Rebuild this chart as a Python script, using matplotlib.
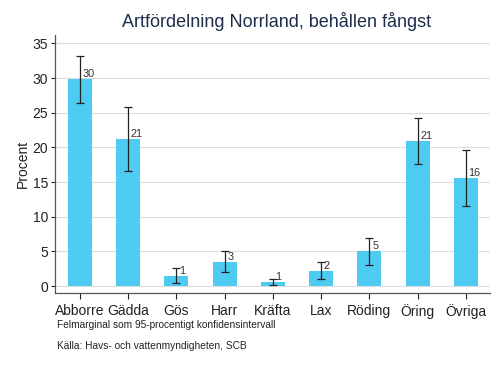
import matplotlib
matplotlib.use("Agg")
import matplotlib.pyplot as plt
import numpy as np

categories = ["Abborre", "Gädda", "Gös", "Harr", "Kräfta", "Lax", "Röding", "Öring", "Övriga"]
values = [29.9, 21.2, 1.5, 3.4, 0.55, 2.1, 5.05, 20.9, 15.6]
ci_low = [26.4, 16.6, 0.4, 2.0, 0.2, 0.97, 3.1, 17.6, 11.6]
ci_high = [33.2, 25.8, 2.55, 5.05, 0.97, 3.4, 7.0, 24.2, 19.6]
labels = ["30", "21", "1", "3", "1", "2", "5", "21", "16"]
yticks = [0, 5, 10, 15, 20, 25, 30, 35]

plt.rcParams['font.family'] = ['Liberation Sans', 'DejaVu Sans']

fig = plt.figure(figsize=(5.03, 3.66), dpi=100)
ax = fig.add_axes([0.109, 0.1995, 0.865, 0.7045])

x = np.arange(len(categories))
vals = np.array(values)
err = np.vstack([vals - np.array(ci_low), np.array(ci_high) - vals])

ax.bar(x, vals, width=0.5, color="#4ecbf0", zorder=2)
ax.errorbar(x, vals, yerr=err, fmt="none", ecolor="#222222", elinewidth=0.9,
            capsize=3, capthick=0.9, zorder=3)
for xi, v, lab in zip(x, vals, labels):
    ax.annotate(lab, (xi, v), xytext=(2, 0), textcoords="offset points",
                ha="left", va="bottom", fontsize=7.8, color="#333333")

ax.set_xlim(-0.52, 8.5)
ax.set_ylim(-1.0, 36.2)
ax.set_yticks(yticks)
ax.set_xticks(x)
ax.set_xticklabels(categories, fontsize=10, color="#222222")
ax.tick_params(axis="y", labelsize=10, colors="#222222", length=3, width=0.8, pad=2)
ax.tick_params(axis="x", length=4, width=0.8, colors="#222222", pad=4)
ax.grid(axis="y", color="#dddddd", linewidth=0.8, zorder=0)
ax.set_axisbelow(True)
for s in ["top", "right"]:
    ax.spines[s].set_visible(False)
for s in ["left", "bottom"]:
    ax.spines[s].set_color("#555555")
    ax.spines[s].set_linewidth(0.9)
ax.set_ylabel("Procent", fontsize=10, color="#222222", labelpad=1.5)

fig.text(0.549, 0.94, "Artfördelning Norrland, behållen fångst", ha="center", va="center",
         fontsize=13, color="#1f2d4d")
fig.text(0.113, 0.112, "Felmarginal som 95-procentigt konfidensintervall", ha="left",
         va="center", fontsize=7.3, color="#222222")
fig.text(0.113, 0.054, "Källa: Havs- och vattenmyndigheten, SCB", ha="left",
         va="center", fontsize=7.3, color="#222222")

fig.savefig("out.png", dpi=100)
